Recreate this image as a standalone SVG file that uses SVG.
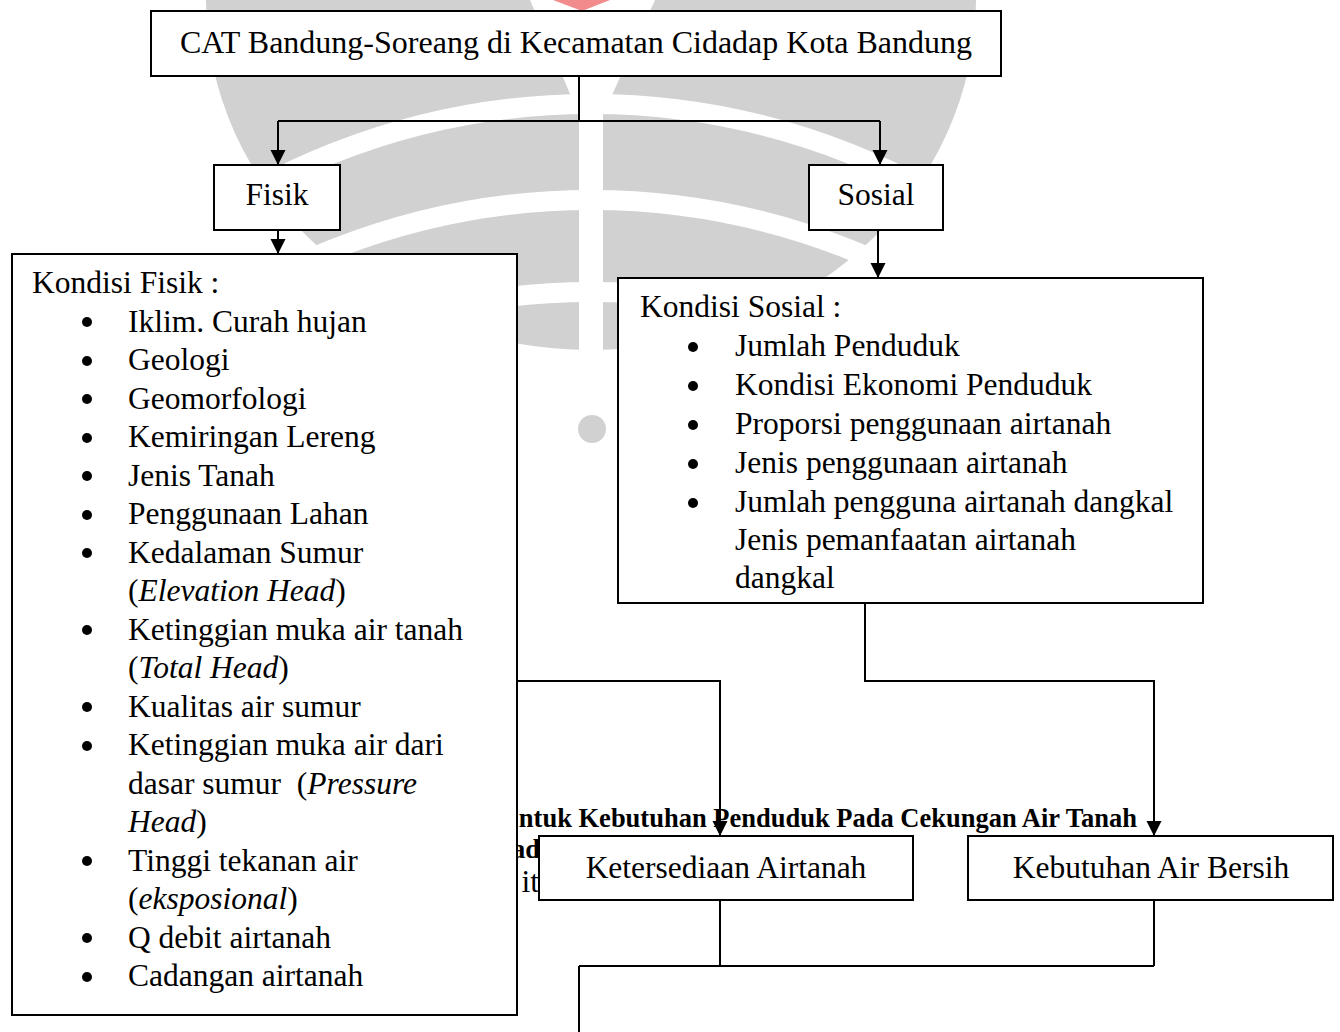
<svg xmlns="http://www.w3.org/2000/svg" width="1340" height="1032" viewBox="0 0 1340 1032">
<style>
.box{fill:#fff;stroke:#000;stroke-width:2}
.t{font-family:"Liberation Serif","Times New Roman",serif;font-size:31.5px;fill:#000}
.c{text-anchor:middle}
.b{font-weight:bold;font-size:26.5px}
.i{font-style:italic}
.conn{fill:none;stroke:#000;stroke-width:2}
.wm{fill:#d1d1d1}
.band{fill:none;stroke:#fff;stroke-width:20}
</style>
<defs>
<marker id="arr" markerUnits="userSpaceOnUse" markerWidth="16" markerHeight="16" refX="15" refY="7.5" orient="auto">
<path d="M0,0 L15,7.5 L0,15 z" fill="#000"/>
</marker>
</defs>
<rect width="1340" height="1032" fill="#fff"/>
<g id="watermark">
<ellipse class="wm" cx="591" cy="0" rx="385" ry="350"/>
<circle class="band" cx="591" cy="804" r="700"/>
<circle class="band" cx="591" cy="900" r="700"/>
<circle class="band" cx="591" cy="992" r="700"/>
<polygon points="530,0 655,0 603,115 603,360 579,360 579,115" fill="#fff"/>
<polygon points="553,0 610,0 582,11" fill="#f28b8b"/>
<circle class="wm" cx="592" cy="429" r="14"/>
</g>
<g id="caption-fragments">
<text class="t b" x="1137" y="827" text-anchor="end">ntuk Kebutuhan Penduduk Pada Cekungan Air Tanah</text>
<text class="t b" x="540" y="858" text-anchor="end">ad</text>
<text class="t" x="539" y="892" text-anchor="end">it</text>
</g>
<g id="connectors">
<path class="conn" d="M579,76 V121"/>
<path class="conn" d="M278,121 H880"/>
<path class="conn" d="M278,121 V165" marker-end="url(#arr)"/>
<path class="conn" d="M880,121 V165" marker-end="url(#arr)"/>
<path class="conn" d="M278,230 V254" marker-end="url(#arr)"/>
<path class="conn" d="M878,230 V278" marker-end="url(#arr)"/>
<path class="conn" d="M517,681 H720 V836" marker-end="url(#arr)"/>
<path class="conn" d="M865,603 V681 H1154 V836" marker-end="url(#arr)"/>
<path class="conn" d="M720,900 V966"/>
<path class="conn" d="M1154,900 V966"/>
<path class="conn" d="M579,966 H1154"/>
<path class="conn" d="M579,966 V1032"/>
</g>
<g id="n-top">
<rect class="box" x="151" y="11" width="850" height="65"/>
<text class="t c" x="576" y="53" style="font-size:32px">CAT Bandung-Soreang di Kecamatan Cidadap Kota Bandung</text>
</g>
<g id="n-fisik">
<rect class="box" x="214" y="165" width="126" height="65"/>
<text class="t c" x="277" y="205">Fisik</text>
</g>
<g id="n-sosial">
<rect class="box" x="809" y="165" width="134" height="65"/>
<text class="t c" x="876" y="205">Sosial</text>
</g>
<g id="n-kondisi-fisik">
<rect class="box" x="12" y="254" width="505" height="761"/>
<text class="t" x="32" y="293">Kondisi Fisik :</text>
<g fill="#000">
<circle cx="87" cy="322" r="5"/>
<circle cx="87" cy="361" r="5"/>
<circle cx="87" cy="399" r="5"/>
<circle cx="87" cy="438" r="5"/>
<circle cx="87" cy="476" r="5"/>
<circle cx="87" cy="515" r="5"/>
<circle cx="87" cy="553" r="5"/>
<circle cx="87" cy="630" r="5"/>
<circle cx="87" cy="707" r="5"/>
<circle cx="87" cy="746" r="5"/>
<circle cx="87" cy="861" r="5"/>
<circle cx="87" cy="938" r="5"/>
<circle cx="87" cy="977" r="5"/>
</g>
<text class="t" x="128" y="331.5">Iklim. Curah hujan</text>
<text class="t" x="128" y="370">Geologi</text>
<text class="t" x="128" y="408.5">Geomorfologi</text>
<text class="t" x="128" y="447">Kemiringan Lereng</text>
<text class="t" x="128" y="485.5">Jenis Tanah</text>
<text class="t" x="128" y="524">Penggunaan Lahan</text>
<text class="t" x="128" y="562.5">Kedalaman Sumur</text>
<text class="t" x="128" y="601">(<tspan class="i">Elevation Head</tspan>)</text>
<text class="t" x="128" y="639.5">Ketinggian muka air tanah</text>
<text class="t" x="128" y="678">(<tspan class="i">Total Head</tspan>)</text>
<text class="t" x="128" y="716.5">Kualitas air sumur</text>
<text class="t" x="128" y="755">Ketinggian muka air dari</text>
<text class="t" x="128" y="793.5" xml:space="preserve">dasar sumur  (<tspan class="i">Pressure</tspan></text>
<text class="t" x="128" y="832"><tspan class="i">Head</tspan>)</text>
<text class="t" x="128" y="870.5">Tinggi tekanan air</text>
<text class="t" x="128" y="909">(<tspan class="i">eksposional</tspan>)</text>
<text class="t" x="128" y="947.5">Q debit airtanah</text>
<text class="t" x="128" y="986">Cadangan airtanah</text>
</g>
<g id="n-kondisi-sosial">
<rect class="box" x="618" y="278" width="585" height="325"/>
<text class="t" x="640" y="317">Kondisi Sosial :</text>
<g fill="#000">
<circle cx="693" cy="347" r="5"/>
<circle cx="693" cy="386" r="5"/>
<circle cx="693" cy="425" r="5"/>
<circle cx="693" cy="464" r="5"/>
<circle cx="693" cy="503" r="5"/>
</g>
<text class="t" x="735" y="356">Jumlah Penduduk</text>
<text class="t" x="735" y="395">Kondisi Ekonomi Penduduk</text>
<text class="t" x="735" y="434">Proporsi penggunaan airtanah</text>
<text class="t" x="735" y="473">Jenis penggunaan airtanah</text>
<text class="t" x="735" y="512">Jumlah pengguna airtanah dangkal</text>
<text class="t" x="735" y="550">Jenis pemanfaatan airtanah</text>
<text class="t" x="735" y="588">dangkal</text>
</g>
<g id="n-ketersediaan">
<rect class="box" x="539" y="836" width="374" height="64"/>
<text class="t c" x="726" y="878">Ketersediaan Airtanah</text>
</g>
<g id="n-kebutuhan">
<rect class="box" x="968" y="836" width="365" height="64"/>
<text class="t c" x="1151" y="878">Kebutuhan Air Bersih</text>
</g>
</svg>
